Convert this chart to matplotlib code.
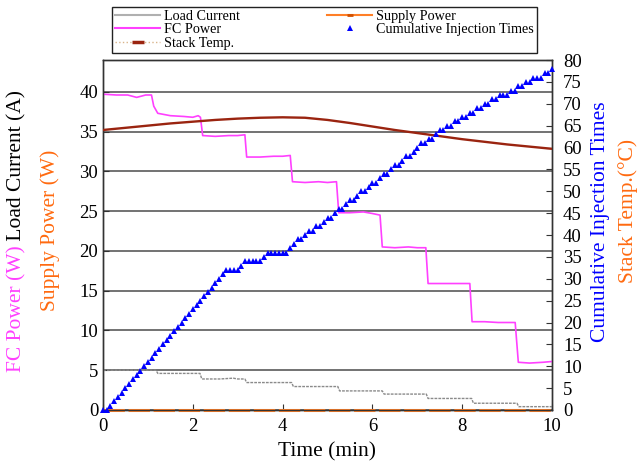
#! /usr/bin/env python3

"""Fuel cell run: load current, powers, stack temperature and injection count."""

import numpy as np
import matplotlib
matplotlib.use('Agg')
import matplotlib.pyplot as plt
from matplotlib.lines import Line2D

plt.rcParams['font.family'] = ['Liberation Serif', 'DejaVu Serif']

# FC power (W), left axis
fc_t = [0.0, 0.3, 0.55, 0.75, 0.95, 1.08, 1.13, 1.22, 1.5, 1.8, 2.0, 2.12,
        2.17, 2.22, 2.5, 2.8, 3.0, 3.16, 3.2, 3.5, 3.8, 4.0, 4.17, 4.22,
        4.5, 4.8, 5.0, 5.2, 5.25, 5.5, 5.8, 6.0, 6.17, 6.22, 6.5, 6.8, 7.0,
        7.19, 7.24, 7.5, 7.8, 8.0, 8.17, 8.22, 8.5, 8.8, 9.0, 9.18, 9.25,
        9.5, 9.8, 10.0]
fc_p = [39.7, 39.6, 39.6, 39.3, 39.6, 39.6, 38.2, 37.3, 37.0, 36.9, 36.8,
        37.0, 36.8, 34.5, 34.4, 34.5, 34.5, 34.6, 31.8, 31.8, 31.9, 31.9,
        32.0, 28.7, 28.6, 28.7, 28.6, 28.7, 24.8, 24.8, 24.9, 24.7, 24.5,
        20.5, 20.4, 20.5, 20.4, 20.4, 15.9, 15.9, 15.9, 15.9, 15.9, 11.1,
        11.1, 11.0, 11.0, 11.0, 6.0, 5.9, 6.0, 6.1]

# Load current (A), left axis
lc_t = [0.0, 0.5, 1.0, 1.18, 1.22, 1.6, 2.0, 2.16, 2.2, 2.6, 2.9, 3.0, 3.16,
        3.2, 3.7, 4.2, 4.24, 4.7, 5.23, 5.27, 5.7, 6.22, 6.26, 6.7, 7.2,
        7.24, 7.7, 8.21, 8.25, 8.7, 9.22, 9.26, 9.6, 10.0]
lc_a = [5.0, 5.0, 5.0, 5.0, 4.6, 4.6, 4.6, 4.6, 3.9, 3.9, 4.0, 3.9, 3.9,
        3.45, 3.45, 3.45, 2.95, 2.95, 2.95, 2.4, 2.4, 2.4, 2.0, 2.0, 2.0,
        1.45, 1.45, 1.45, 0.85, 0.85, 0.85, 0.42, 0.42, 0.42]

# Supply power (W), left axis
sp_t = [0.0, 10.0]
sp_w = [0.0, 0.0]

# Stack temperature (degC), right axis
temp_t = [0.0, 0.5, 1.0, 1.5, 2.0, 2.5, 3.0, 3.5, 4.0, 4.5, 5.0, 5.5, 6.0,
          6.5, 7.0, 7.5, 8.0, 8.5, 9.0, 9.5, 10.0]
temp_c = [64.0, 64.5, 65.0, 65.5, 65.9, 66.3, 66.6, 66.8, 66.9, 66.8, 66.3,
          65.6, 64.8, 64.0, 63.3, 62.6, 61.9, 61.3, 60.7, 60.2, 59.7]

# Cumulative injection count, sampled every 5 s, right axis
inj_step = 5.0 / 60.0
inj_n = [0, 0, 1, 2, 3, 4, 5, 6, 7, 8, 9, 10, 11, 12, 13, 14, 15, 16, 17,
         18, 19, 20, 21, 22, 23, 24, 25, 26, 27, 28, 29, 30, 31, 32, 32, 32,
         32, 33, 34, 34, 34, 34, 34, 35, 36, 36, 36, 36, 36, 36, 37, 38, 39,
         39, 40, 41, 41, 42, 42, 43, 44, 44, 45, 46, 46, 47, 48, 48, 49, 50,
         50, 51, 52, 52, 53, 54, 54, 55, 56, 56, 57, 58, 58, 59, 60, 61, 61,
         62, 62, 63, 64, 64, 65, 65, 66, 66, 67, 67, 68, 68, 69, 69, 70, 70,
         71, 71, 72, 72, 72, 73, 73, 74, 74, 75, 75, 76, 76, 76, 77, 77, 78]
inj_t = np.arange(len(inj_n)) * inj_step

MAGENTA = '#FF40FF'
ORANGE = '#FF7F27'
BLUE = '#0000FF'
TEMP = '#9A2410'


def stacked_label(fig, x, yc, parts, size):
    """Rotated label made of coloured pieces laid end to end."""
    renderer = fig.canvas.get_renderer()
    texts = [fig.text(x, 0, s, color=c, fontsize=size, rotation=90,
                      ha='center', va='bottom') for s, c in parts]
    heights = [t.get_window_extent(renderer).height for t in texts]
    y = yc * fig.bbox.height - sum(heights) / 2
    for t, h in zip(texts, heights):
        t.set_y(y / fig.bbox.height)
        y += h


def main():
    fig = plt.figure(figsize=(6.42, 4.70), dpi=100)
    ax = fig.add_axes([103 / 642, 60 / 470, 449 / 642, 350 / 470])
    ax2 = ax.twinx()

    ax.plot(lc_t, lc_a, color='#8a8a8a', lw=1.0, ls=(0, (2, 0.8)), zorder=3)
    ax.plot(fc_t, fc_p, color=MAGENTA, lw=1.2, zorder=3)
    ax.plot(sp_t, sp_w, color=ORANGE, lw=2.2, ls=(0, (7, 1.2)),
            clip_on=False, zorder=5)

    ax2.plot(temp_t, temp_c, color=TEMP, lw=1.7, zorder=3)
    ax2.plot(inj_t, inj_n, ls='none', marker='^', ms=5.0, color=BLUE,
             mec=BLUE, mew=0, clip_on=False, zorder=4)

    ax.set_xlim(0, 10)
    ax.set_ylim(0, 44)
    ax2.set_ylim(0, 80)
    ax.set_xticks(range(0, 11, 2))
    ax.set_yticks(range(0, 41, 5))
    ax2.set_yticks(range(0, 81, 5))

    ax.yaxis.grid(True, color='#5a5a5a', lw=1.2)
    ax.set_axisbelow(True)

    ax.tick_params(axis='both', direction='in', length=4, labelsize=13.5,
                   color='#333333')
    ax.tick_params(axis='x', pad=6)
    ax2.tick_params(axis='y', direction='in', length=4, labelsize=13.5,
                    pad=8, color='#333333')
    for a in (ax, ax2):
        for s in a.spines.values():
            s.set_color('#333333')
            s.set_linewidth(1.0)

    ax.set_xlabel('Time (min)', fontsize=15.5, labelpad=5)

    stacked_label(fig, 17 / 642, 1 - 231 / 470,
                  [('FC Power (W)', MAGENTA), (' Load Current (A)', 'black')],
                  15.5)
    stacked_label(fig, 50 / 642, 1 - 230 / 470,
                  [('Supply Power (W)', '#FF6A10')], 15.5)
    stacked_label(fig, 601 / 642, 1 - 222 / 470,
                  [('Cumulative Injection Times', BLUE)], 15.5)
    stacked_label(fig, 628 / 642, 1 - 211 / 470,
                  [('Stack Temp.(\u00b0C)', '#FF6A10')], 15.5)

    handles = [
        Line2D([], [], color='#b0b0b0', lw=1.5),
        Line2D([], [], color=MAGENTA, lw=1.5),
        Line2D([], [], color='#d9b48a', lw=1.0, ls=':', marker='_',
               ms=8, mew=2.5, mec=TEMP),
        Line2D([], [], color=ORANGE, lw=1.5, marker='_', ms=5, mew=2,
               mec='#d05000'),
        Line2D([], [], ls='none', marker='^', ms=5, color=BLUE, mew=0),
    ]
    labels = ['Load Current', 'FC Power', 'Stack Temp.', 'Supply Power',
              'Cumulative Injection Times']
    leg = fig.legend(handles, labels, loc='lower left', ncol=2,
                     mode='expand',
                     bbox_to_anchor=(112 / 642, 1 - 53 / 470, 425 / 642,
                                     45 / 470),
                     fontsize=10.2, frameon=True, fancybox=False,
                     edgecolor='#222222', framealpha=1, borderpad=0.2,
                     labelspacing=0.05, handlelength=3.2, handletextpad=0.3,
                     borderaxespad=0)
    leg.get_frame().set_linewidth(1.0)

    fig.savefig('out.png', dpi=100)


if __name__ == "__main__":
    main()
